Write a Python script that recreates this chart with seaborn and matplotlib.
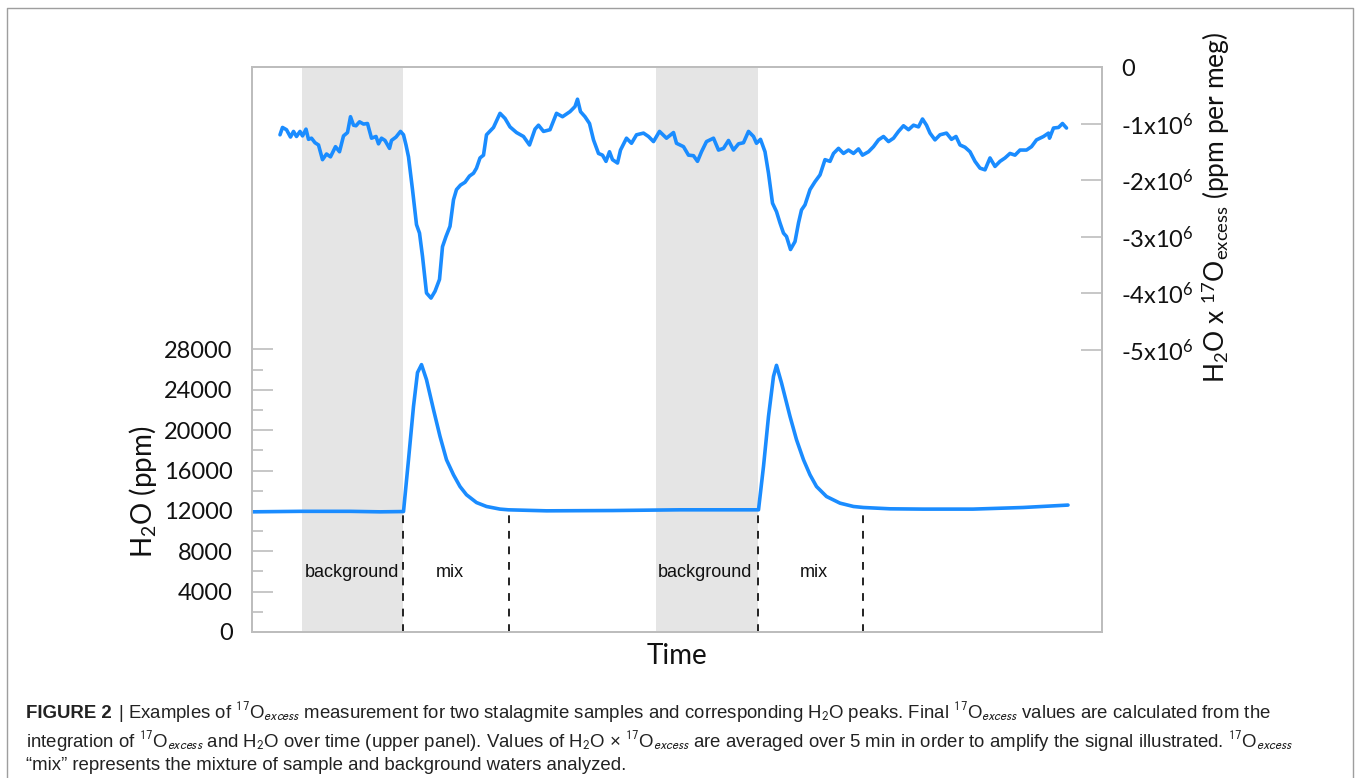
import matplotlib
matplotlib.use("Agg")
import matplotlib.pyplot as plt
import seaborn as sns
import pandas as pd
from matplotlib import font_manager
from matplotlib.lines import Line2D

# ---------------- data ----------------
o17_time = [5.6, 6.1, 6.9, 7.7, 8.3, 8.9, 9.6, 10.1, 10.8, 11.3,
            11.9, 12.6, 13.3, 14.1, 14.9, 15.7, 16.7, 17.5, 18.3, 19.1,
            19.7, 20.3, 20.8, 21.5, 22.3, 23.1, 23.9, 24.8, 25.3, 25.9,
            26.6, 27.5, 27.9, 28.8, 29.7, 30.3, 30.8, 31.3, 32.1, 32.9,
            33.5, 34.1, 34.9, 35.8, 36.6, 37.5, 38.1, 38.8, 39.6, 40.3,
            40.9, 41.7, 42.6, 43.5, 44.3, 44.9, 45.6, 46.3, 46.9, 48.3,
            49.6, 50.6, 51.6, 52.9, 54.3, 55.5, 56.6, 57.3, 58.3, 59.6,
            60.9, 62.1, 63.6, 64.6, 65.1, 65.7, 66.6, 67.5, 68.3, 69.3,
            70.1, 70.8, 71.5, 72.1, 73.1, 73.7, 74.9, 75.9, 76.9, 78.3,
            79.3, 80.3, 81.5, 82.9, 84.3, 84.9, 86.3, 87.3, 88.3, 89.1,
            89.9, 90.9, 92.3, 93.3, 94.3, 95.3, 96.3, 97.3, 98.3, 99.3,
            100.3, 100.9, 101.7, 102.6, 103.3, 104.1, 104.9, 105.6, 106.3, 106.9,
            107.7, 108.6, 109.3, 109.9, 110.6, 111.6, 112.6, 113.6, 114.6, 115.6,
            116.3, 117.3, 118.3, 119.3, 120.3, 121.3, 122.1, 123.3, 124.3, 125.3,
            126.3, 127.3, 128.3, 129.3, 130.3, 131.3, 132.3, 133.3, 134.1, 134.9,
            135.6, 136.6, 137.6, 138.9, 139.9, 140.8, 141.6, 142.6, 143.6, 144.6,
            145.6, 146.6, 147.6, 148.6, 149.6, 150.6, 151.6, 152.6, 153.6, 154.9,
            155.9, 156.9, 158.3, 159.3, 159.5, 160.3, 161.3, 162.1, 162.9]
# H2O x 17O-excess, in units of 10^6 ppm per meg
o17_vals = [-1.20, -1.07, -1.11, -1.24, -1.14, -1.23, -1.14, -1.22, -1.10, -1.28,
            -1.26, -1.34, -1.38, -1.64, -1.54, -1.59, -1.41, -1.50, -1.22, -1.16,
            -0.88, -1.03, -1.04, -0.97, -1.01, -1.00, -1.26, -1.23, -1.36, -1.26,
            -1.30, -1.44, -1.30, -1.24, -1.14, -1.20, -1.38, -1.59, -2.17, -2.79,
            -2.94, -3.35, -4.00, -4.09, -3.97, -3.76, -3.18, -3.00, -2.82, -2.35,
            -2.17, -2.09, -2.04, -1.93, -1.88, -1.79, -1.61, -1.56, -1.20, -1.07,
            -0.82, -0.91, -1.06, -1.16, -1.23, -1.38, -1.10, -1.03, -1.14, -1.11,
            -0.82, -0.88, -0.79, -0.70, -0.57, -0.79, -0.88, -1.00, -1.29, -1.53,
            -1.56, -1.67, -1.50, -1.64, -1.70, -1.47, -1.26, -1.35, -1.20, -1.17,
            -1.23, -1.32, -1.14, -1.26, -1.16, -1.35, -1.41, -1.56, -1.57, -1.67,
            -1.50, -1.32, -1.26, -1.47, -1.44, -1.30, -1.47, -1.36, -1.34, -1.14,
            -1.23, -1.35, -1.28, -1.50, -1.88, -2.41, -2.56, -2.76, -2.94, -3.00,
            -3.23, -3.09, -2.76, -2.53, -2.44, -2.17, -2.03, -1.91, -1.64, -1.67,
            -1.53, -1.44, -1.53, -1.47, -1.53, -1.45, -1.56, -1.50, -1.41, -1.29,
            -1.23, -1.32, -1.26, -1.14, -1.04, -1.11, -1.03, -1.06, -0.92, -1.03,
            -1.17, -1.29, -1.20, -1.17, -1.28, -1.23, -1.38, -1.42, -1.50, -1.67,
            -1.79, -1.82, -1.61, -1.76, -1.67, -1.61, -1.53, -1.56, -1.47, -1.47,
            -1.41, -1.29, -1.23, -1.17, -1.26, -1.08, -1.07, -1.00, -1.08]

h2o_time = [0, 9.6, 19.6, 25.6, 30.3, 31.3, 32.3, 33.1, 33.9, 34.9,
            36.3, 37.6, 38.9, 40.3, 41.6, 42.9, 44.9, 46.9, 49.6, 51.3,
            58.9, 72.2, 85.6, 101.3, 102.3, 103.3, 104.3, 104.9, 105.9, 107.6,
            108.9, 110.3, 111.6, 112.9, 114.9, 117.6, 120.3, 122.3, 127.6, 134.2,
            144.2, 154.2, 163.2]
h2o_vals = [11910, 11960, 11960, 11910, 11940, 17070, 22360, 25710, 26500, 25010,
            22040, 19390, 17070, 15580, 14420, 13600, 12830, 12440, 12180, 12110,
            12010, 12040, 12110, 12110, 16410, 21370, 25340, 26430, 24690, 21370,
            19060, 17070, 15580, 14420, 13430, 12770, 12440, 12340, 12210, 12180,
            12180, 12340, 12580]

background_windows = [(10.0, 30.2), (80.8, 101.2)]
boundary_times = [30.2, 51.4, 101.2, 122.2]
boundary_tops = [11940, 12110, 12110, 12340]
region_labels = ["background", "mix", "background", "mix"]
region_label_times = [20.0, 39.6, 90.6, 112.4]
region_label_level = 5860

left_ticks = [0, 4000, 8000, 12000, 16000, 20000, 24000, 28000]
left_minor_ticks = [2000, 6000, 10000, 14000, 18000, 22000, 26000]
right_ticks = [0, -1, -2, -3, -4, -5]
right_tick_labels = ["0", "-1x10$^{6}$", "-2x10$^{6}$", "-3x10$^{6}$",
                     "-4x10$^{6}$", "-5x10$^{6}$"]

# ---------------- style ----------------
sns.set_theme(style="white")
plt.rcParams["font.family"] = ["Lato", "DejaVu Sans"]
plt.rcParams["mathtext.fontset"] = "custom"
plt.rcParams["mathtext.rm"] = "Lato"
plt.rcParams["mathtext.it"] = "Lato:italic"
plt.rcParams["mathtext.bf"] = "Lato:bold"

BLUE = "#1a8cff"
GRAY = "#bdbdbd"
SHADE = "#e5e5e5"

try:
    font_manager.findfont(font_manager.FontProperties(family="Liberation Sans Narrow"),
                          fallback_to_default=False)
    CAP_FONT = "Liberation Sans Narrow"
    CAP_SIZE = 12.5
except Exception:
    CAP_FONT = "Liberation Sans"
    CAP_SIZE = 13.4

W, H = 1360, 778
fig = plt.figure(figsize=(W / 100, H / 100), dpi=100)
ax = fig.add_axes([252 / W, 1 - 632 / H, 850 / W, 565 / H])

df_h2o = pd.DataFrame({"time": h2o_time, "h2o": h2o_vals})
df_o17 = pd.DataFrame({"time": o17_time, "o17": o17_vals})

for a, b in background_windows:
    ax.axvspan(a, b, color=SHADE, lw=0, zorder=0)

sns.lineplot(data=df_h2o, x="time", y="h2o", ax=ax, color=BLUE, linewidth=2.6,
             estimator=None, zorder=3)
ax.vlines(boundary_times, 0, boundary_tops, colors="#222222", linestyles=(0, (4, 4)),
          linewidth=1.4, zorder=2)
for lab, t in zip(region_labels, region_label_times):
    ax.text(t, region_label_level, lab, ha="center", va="center", fontsize=13,
            family="Liberation Sans", color="#111111")

ax.set_xlim(0, 170)
ax.set_ylim(0, 56000)
ax.set_xticks([])
ax.set_yticks(left_ticks)
ax.set_yticks(left_minor_ticks, minor=True)
ax.set_yticklabels([str(v) for v in left_ticks])
ax.tick_params(axis="y", which="major", direction="in", length=15, width=1.2,
               color=GRAY, labelsize=17, pad=14, left=True, right=False,
               labelcolor="#111111")
ax.tick_params(axis="y", which="minor", direction="in", length=8, width=1.2,
               color=GRAY, left=True, right=False)
ax.set_xlabel("Time", fontsize=20, labelpad=8, color="#111111")
ax.set_ylabel("H$_2$O (ppm)", fontsize=20, color="#111111", va="center", ha="center")
ax.yaxis.set_label_coords(-0.128, 0.248)

ax2 = ax.twinx()
sns.lineplot(data=df_o17, x="time", y="o17", ax=ax2, color=BLUE, linewidth=2.6,
             estimator=None)
ax2.set_ylim(-10, 0)
ax2.set_yticks(right_ticks)
ax2.set_yticklabels(right_tick_labels)
ax2.tick_params(axis="y", direction="in", length=15, width=1.2, color=GRAY,
                labelsize=17, pad=14, right=True, left=False, labelright=True,
                labelleft=False, labelcolor="#111111")
ax2.set_xlim(0, 170)
ax2.set_xticks([])
ax2.set_xlabel("")
ax2.set_ylabel(r"H$_2$O x $^{17}$O$_{\mathrm{excess}}$ (ppm per meg)", fontsize=19,
               color="#111111", rotation=90, va="center", ha="center")
ax2.yaxis.set_label_coords(1.134, 0.752)

for a in (ax, ax2):
    for s in a.spines.values():
        s.set_visible(True)
        s.set_color(GRAY)
        s.set_linewidth(1.3)

# outer figure frame (left, top, right)
bx0, bx1, by0 = 7 / W, 1353 / W, 1 - 8 / H
fig.add_artist(Line2D([bx0, bx0, bx1, bx1], [0, by0, by0, 0], transform=fig.transFigure,
                      color="#9e9e9e", linewidth=1.0))

# caption
fig.canvas.draw()
renderer = fig.canvas.get_renderer()
cap_x = 26 / W
cap_kw = dict(fontsize=CAP_SIZE, family=CAP_FONT, color="#222222", va="baseline",
              ha="left", math_fontfamily="stixsans")
bold = fig.text(cap_x, 1 - 718 / H, "FIGURE 2 ", fontweight="bold", **cap_kw)
bb = bold.get_window_extent(renderer)
rest_x = (bb.x1 + 1) / W
oe = r"$^{17}$O$_{\mathit{excess}}$"
line1 = ("| Examples of " + oe + " measurement for two stalagmite samples and corresponding "
         "H$_2$O peaks. Final " + oe + " values are calculated from the")
line2 = ("integration of " + oe + " and H$_2$O over time (upper panel). Values of H$_2$O "
         "\u00d7 " + oe + " are averaged over 5 min in order to amplify the signal "
         "illustrated. " + oe)
line3 = "\u201cmix\u201d represents the mixture of sample and background waters analyzed."
fig.text(rest_x, 1 - 718 / H, line1, **cap_kw)
fig.text(cap_x, 1 - 747 / H, line2, **cap_kw)
fig.text(cap_x, 1 - 770 / H, line3, **cap_kw)

fig.savefig("out.png", dpi=100)
